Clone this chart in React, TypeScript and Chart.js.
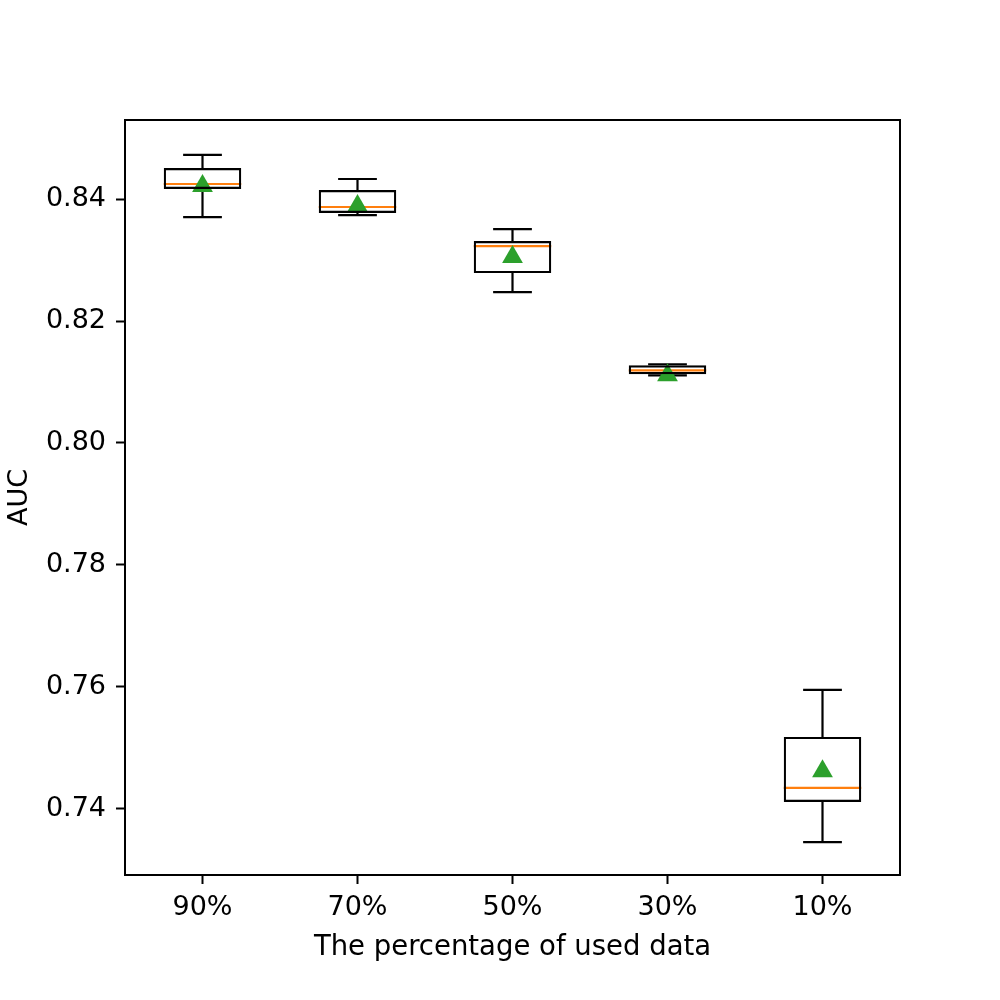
import React, { useEffect, useRef } from "react";
import { Chart, registerables } from "chart.js";

Chart.register(...registerables);

const categories = ["90%", "70%", "50%", "30%", "10%"];
const whiskerLow = [0.83704, 0.83737, 0.82473, 0.8111, 0.73458];
const q1 = [0.84164, 0.8377, 0.82785, 0.81126, 0.74115];
const medians = [0.84246, 0.83869, 0.83228, 0.81192, 0.74345];
const q3 = [0.84509, 0.84148, 0.8331, 0.81274, 0.75182];
const whiskerHigh = [0.84722, 0.84328, 0.83507, 0.81291, 0.75954];
const means = [0.84213, 0.83885, 0.83048, 0.8111, 0.7462];
const yTicks = [0.74, 0.76, 0.78, 0.8, 0.82, 0.84];

const FONT = "'DejaVu Sans', sans-serif";

const boxPlugin = {
  id: "boxExtras",
  beforeDatasetsDraw(chart: any) {
    const ctx = chart.ctx;
    const y = chart.scales.y;
    const meta = chart.getDatasetMeta(0);
    ctx.save();
    meta.data.forEach((bar: any, i: number) => {
      const cx = bar.x;
      const half = bar.width / 2;
      const capHalf = half / 2;
      ctx.strokeStyle = "#000";
      ctx.lineWidth = 2.2;
      ctx.beginPath();
      ctx.moveTo(cx, y.getPixelForValue(q3[i]));
      ctx.lineTo(cx, y.getPixelForValue(whiskerHigh[i]));
      ctx.moveTo(cx, y.getPixelForValue(q1[i]));
      ctx.lineTo(cx, y.getPixelForValue(whiskerLow[i]));
      ctx.moveTo(cx - capHalf, y.getPixelForValue(whiskerHigh[i]));
      ctx.lineTo(cx + capHalf, y.getPixelForValue(whiskerHigh[i]));
      ctx.moveTo(cx - capHalf, y.getPixelForValue(whiskerLow[i]));
      ctx.lineTo(cx + capHalf, y.getPixelForValue(whiskerLow[i]));
      ctx.stroke();
      ctx.strokeStyle = "#ff7f0e";
      ctx.beginPath();
      ctx.moveTo(cx - half, y.getPixelForValue(medians[i]));
      ctx.lineTo(cx + half, y.getPixelForValue(medians[i]));
      ctx.stroke();
    });
    ctx.restore();
  },
  afterDraw(chart: any) {
    const ctx = chart.ctx;
    const a = chart.chartArea;
    ctx.save();
    ctx.strokeStyle = "#000";
    ctx.lineWidth = 2;
    ctx.strokeRect(a.left, a.top, a.right - a.left, a.bottom - a.top);
    ctx.restore();
  },
};

export default function App() {
  const ref = useRef<HTMLCanvasElement>(null);
  useEffect(() => {
    const chart = new Chart(ref.current!, {
      type: "bar",
      data: {
        labels: categories,
        datasets: [
          {
            type: "bar",
            data: q1.map((v, i) => [v, q3[i]]),
            backgroundColor: "rgba(0,0,0,0)",
            borderColor: "#000",
            borderWidth: 2.2,
            borderSkipped: false,
            barPercentage: 0.5,
            categoryPercentage: 1,
          } as any,
          {
            type: "line",
            data: means,
            showLine: false,
            pointStyle: "triangle",
            pointRadius: 12,
            backgroundColor: "#2ca02c",
            borderColor: "#2ca02c",
            borderWidth: 0,
          } as any,
        ],
      },
      options: {
        animation: false,
        responsive: false,
        maintainAspectRatio: false,
        layout: { padding: { top: 120, right: 100, left: 0, bottom: 0 } },
        plugins: { legend: { display: false }, tooltip: { enabled: false } },
        scales: {
          x: {
            offset: true,
            grid: { display: true, drawOnChartArea: false, offset: false, tickLength: 9, tickColor: "#000", tickWidth: 2 },
            border: { display: true, color: "#000", width: 2 },
            ticks: { color: "#000", font: { family: FONT, size: 27 }, padding: 8 },
            title: { display: true, text: "The percentage of used data", color: "#000", font: { family: FONT, size: 27.5 }, padding: { top: 4, bottom: 36 } },
            afterFit: (s: any) => { s.height = 125; },
          },
          y: {
            min: 0.72918,
            max: 0.852951,
            afterBuildTicks: (s: any) => { s.ticks = yTicks.map((v) => ({ value: v })); },
            grid: { display: true, drawOnChartArea: false, tickLength: 9, tickColor: "#000", tickWidth: 2 },
            border: { display: true, color: "#000", width: 2 },
            ticks: { color: "#000", font: { family: FONT, size: 27 }, padding: 10, callback: (v: any) => Number(v).toFixed(2) },
            title: { display: true, text: "AUC", color: "#000", font: { family: FONT, size: 27 }, padding: { bottom: 4 } },
            afterFit: (s: any) => { s.width = 125; },
          },
        },
      },
      plugins: [boxPlugin],
    });
    return () => chart.destroy();
  }, []);
  return (
    <div style={{ position: "fixed", left: 0, top: 0, width: 1000, height: 1000, background: "#fff" }}>
      <canvas ref={ref} width={1000} height={1000} style={{ width: 1000, height: 1000 }} />
    </div>
  );
}
